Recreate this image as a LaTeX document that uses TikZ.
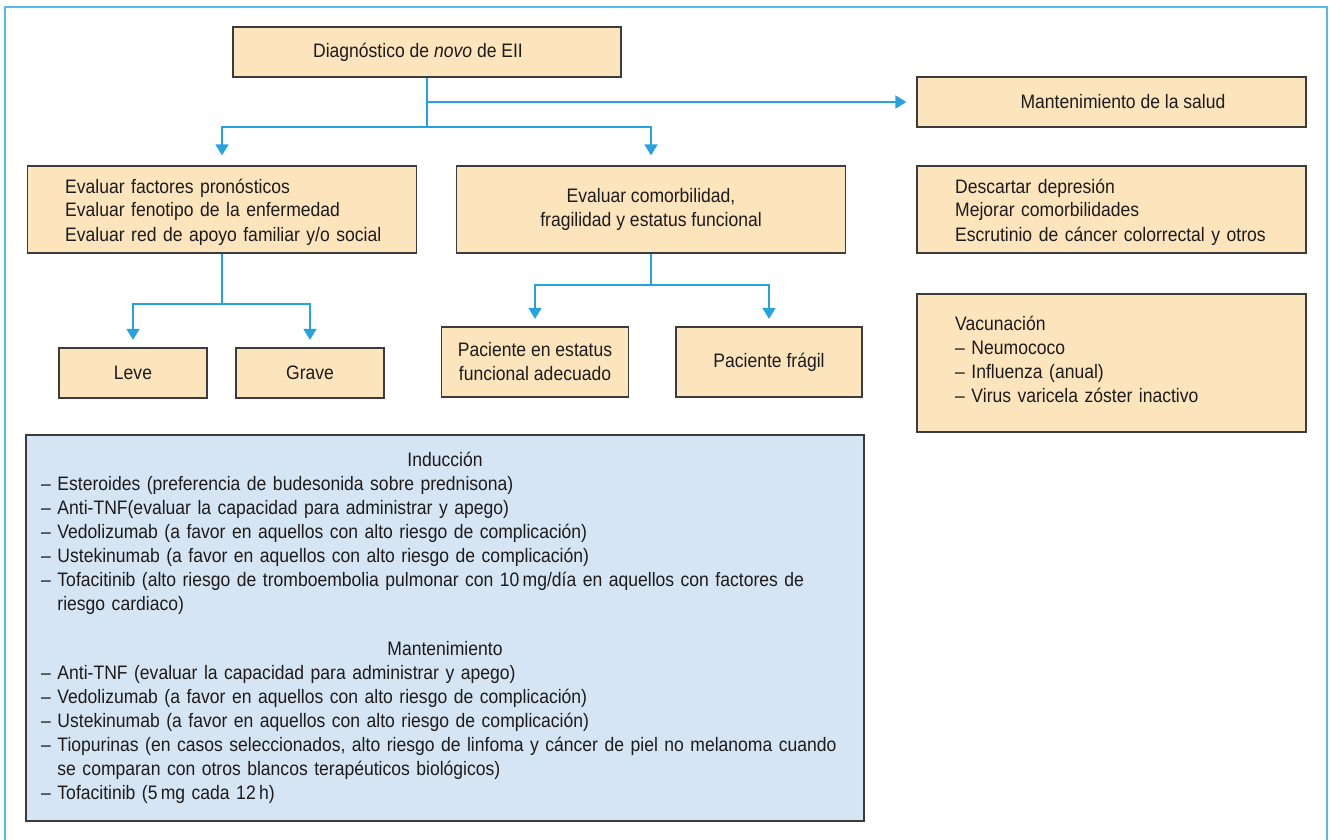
\documentclass[tikz,border=0pt]{standalone}
\usepackage{fontspec}
\setmainfont[FakeStretch=0.9]{Liberation Sans}
\usetikzlibrary{arrows.meta}
\definecolor{peach}{RGB}{252,228,188}
\definecolor{paleblue}{RGB}{213,229,244}
\definecolor{boxline}{RGB}{60,60,60}
\definecolor{linkblue}{RGB}{38,162,222}
\definecolor{framebl}{RGB}{88,185,232}
\definecolor{ink}{RGB}{30,27,28}
% indentation of wrapped list lines, aligned after the dash
\newcommand{\contindent}{\phantom{– }}
\begin{document}
\begin{tikzpicture}[x=1pt,y=-1pt,
  every node/.style={font=\fontsize{19.5}{24}\selectfont, text=ink, inner sep=0pt},
  box/.style={draw=boxline, fill=peach, line width=1.3pt},
  bluebox/.style={draw=boxline, fill=paleblue, line width=1.3pt},
  boxtext/.style={anchor=base west, align=left, text width=#1},
  link/.style={draw=linkblue, line width=1.8pt},
  arrow/.style={link, -{Triangle[width=13pt,length=11pt]}, shorten >=#1}]
\useasboundingbox (0,0) rectangle (1330,840);

% outer frame, open at the bottom
\draw[framebl, line width=2.2pt] (5,840) -- (5,7) -- (1327,7) -- (1327,840);

% top node
\node[box, minimum width=388pt, minimum height=50pt] (diag) at (427,52) {};
\node (diagtext) at (418,52) {Diagnóstico de \textit{novo} de EII};

% health maintenance column
\node[box, minimum width=389pt, minimum height=50pt] (mant) at (1111.5,102) {};
\node (manttext) at (1123,102) {Mantenimiento de la salud};
\node[box, minimum width=389pt, minimum height=87pt] (desc) at (1111.5,209.5) {};
\node[boxtext=340pt] (desctext) at (955,193)
  {Descartar depresión\\Mejorar comorbilidades\\Escrutinio de cáncer colorrectal y otros};
\node[box, minimum width=389pt, minimum height=138pt] (vac) at (1111.5,363) {};
\node[boxtext=340pt] (vactext) at (955,330)
  {Vacunación\\– Neumococo\\– Influenza (anual)\\– Virus varicela zóster inactivo};

% evaluation boxes
\node[box, minimum width=389pt, minimum height=87pt] (eval) at (222,209.5) {};
\node[boxtext=345pt] (evaltext) at (65,193)
  {Evaluar factores pronósticos\\Evaluar fenotipo de la enfermedad\\Evaluar red de apoyo familiar y/o social};
\node[box, minimum width=389pt, minimum height=87pt, align=center] (comor) at (651,209.5)
  {Evaluar comorbilidad,\\fragilidad y estatus funcional};

% severity
\node[box, minimum width=148pt, minimum height=50pt] (leve) at (133,373) {Leve};
\node[box, minimum width=148pt, minimum height=50pt] (grave) at (310,373) {Grave};

% functional status
\node[box, minimum width=187pt, minimum height=70pt, align=center] (pest) at (535,362)
  {Paciente en estatus\\funcional adecuado};
\node[box, minimum width=186pt, minimum height=70pt] (pfrag) at (769,362) {Paciente frágil};

% treatment box
\node[bluebox, minimum width=838pt, minimum height=386pt] (trat) at (445,628) {};
\node[anchor=base] (induc) at (445,466) {Inducción};
\node[boxtext=820pt] (induclist) at (41,490)
  {– Esteroides (preferencia de budesonida sobre prednisona)\\
   – Anti-TNF(evaluar la capacidad para administrar y apego)\\
   – Vedolizumab (a favor en aquellos con alto riesgo de complicación)\\
   – Ustekinumab (a favor en aquellos con alto riesgo de complicación)\\
   – Tofacitinib (alto riesgo de tromboembolia pulmonar con 10\,mg/día en aquellos con factores de\\
   \contindent riesgo cardiaco)};
\node[anchor=base] (manten) at (445,655) {Mantenimiento};
\node[boxtext=820pt] (mantenlist) at (41,679)
  {– Anti-TNF (evaluar la capacidad para administrar y apego)\\
   – Vedolizumab (a favor en aquellos con alto riesgo de complicación)\\
   – Ustekinumab (a favor en aquellos con alto riesgo de complicación)\\
   – Tiopurinas (en casos seleccionados, alto riesgo de linfoma y cáncer de piel no melanoma cuando\\
   \contindent se comparan con otros blancos terapéuticos biológicos)\\
   – Tofacitinib (5\,mg cada 12\,h)};

% connectors
\coordinate (split1) at ([yshift=-49pt]diag.south);
\draw[link] (diag.south) -- (split1);
\draw[arrow=10pt] (split1) -| (eval);
\draw[arrow=10pt] (split1) -| (comor);
\draw[arrow=10pt] (diag.south |- mant.west) -- (mant.west);

\coordinate (split2) at ([yshift=-50pt]eval.south);
\draw[link] (eval.south) -- (split2);
\draw[arrow=7.5pt] (split2) -| (leve);
\draw[arrow=7.5pt] (split2) -| (grave);

\coordinate (split3) at ([yshift=-31.5pt]comor.south);
\draw[link] (comor.south) -- (split3);
\draw[arrow=7.5pt] (split3) -| (pest);
\draw[arrow=7.5pt] (split3) -| (pfrag);
\end{tikzpicture}
\end{document}
